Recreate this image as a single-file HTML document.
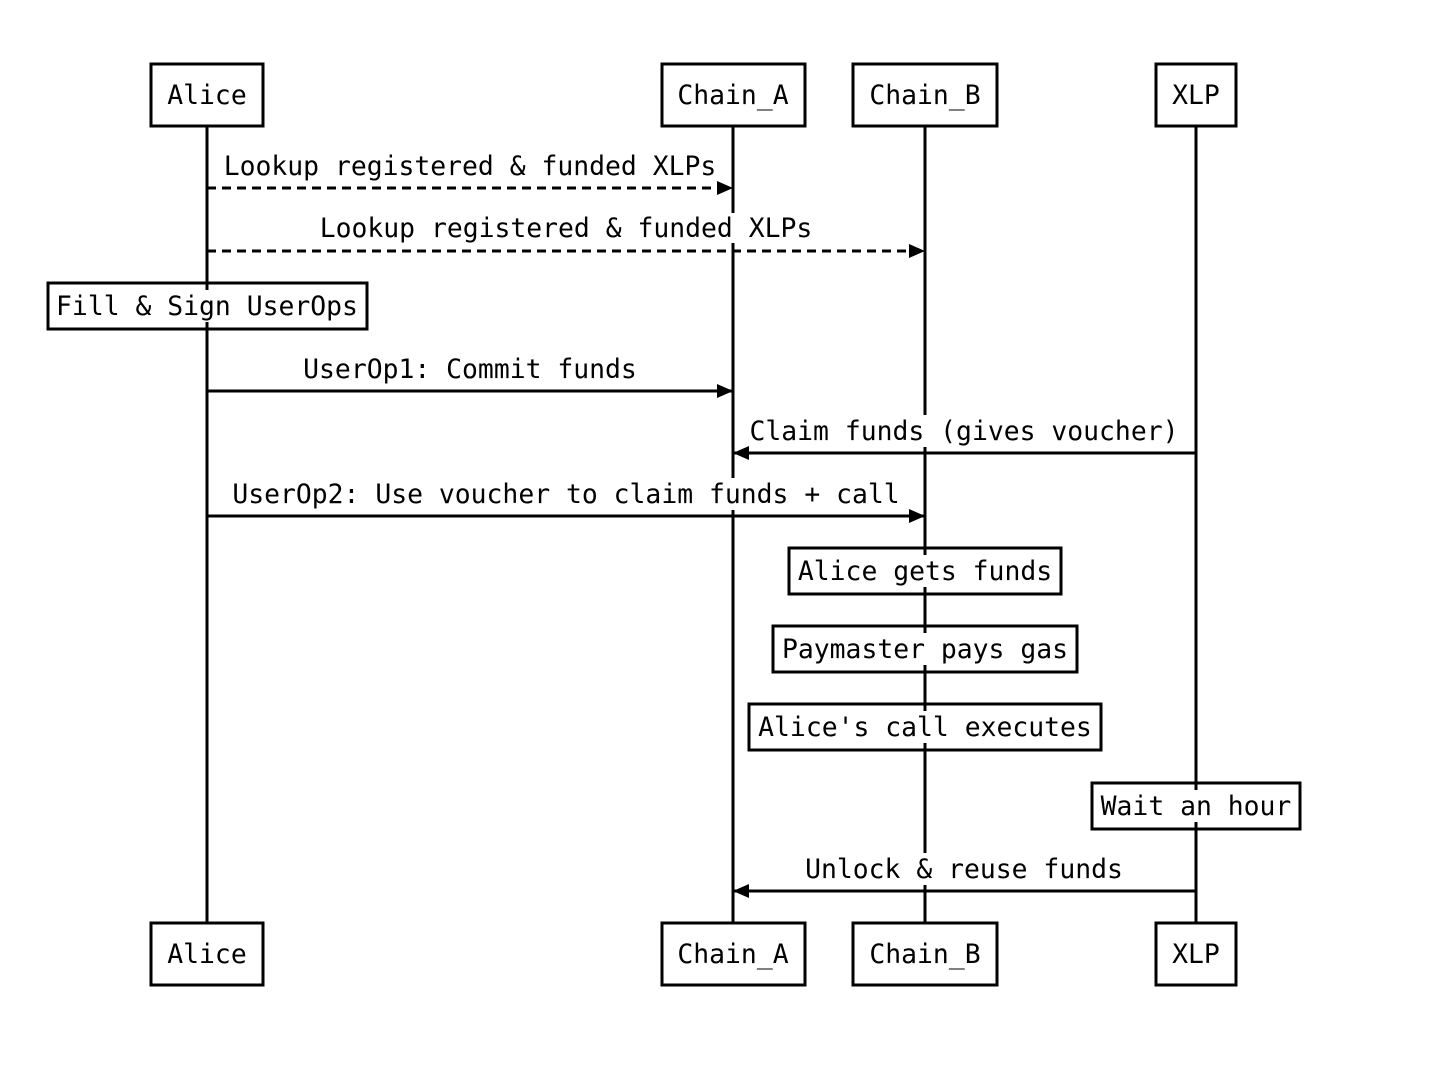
<!DOCTYPE html>
<html><head><meta charset="utf-8"><style>
html,body{margin:0;padding:0;background:#fff}
svg text{font-family:"DejaVu Sans Mono","Liberation Mono",monospace;font-size:26.4px;fill:#000}
</style></head><body>
<svg width="1436" height="1064" viewBox="0 0 1436 1064" xmlns="http://www.w3.org/2000/svg">
<defs>
<marker id="a" markerWidth="16" markerHeight="14" refX="16" refY="7" orient="auto" markerUnits="userSpaceOnUse"><path d="M0,0 L16,7 L0,14 z" fill="#000"/></marker>
</defs>
<g stroke="#000" stroke-width="3">
<line x1="207" y1="126" x2="207" y2="923"/>
<line x1="733" y1="126" x2="733" y2="923"/>
<line x1="925" y1="126" x2="925" y2="923"/>
<line x1="1196" y1="126" x2="1196" y2="923"/>
</g>
<g fill="#fff">
<rect x="220" y="150" width="500" height="32"/>
<rect x="316" y="213" width="500" height="30"/>
<rect x="300" y="353" width="340" height="32"/>
<rect x="746" y="415" width="436" height="32"/>
<rect x="228" y="478" width="676" height="32"/>
<rect x="802" y="853" width="324" height="32"/>
<rect x="54" y="290" width="307" height="32"/>
<rect x="795" y="555" width="260" height="32"/>
<rect x="779" y="633" width="292" height="32"/>
<rect x="755" y="711" width="340" height="32"/>
<rect x="1098" y="790" width="196" height="32"/>
</g>
<g stroke="#000" stroke-width="3" fill="none">
<line x1="207" y1="188" x2="733" y2="188" stroke-dasharray="9,6" marker-end="url(#a)"/>
<line x1="207" y1="251" x2="925" y2="251" stroke-dasharray="9,6" marker-end="url(#a)"/>
<line x1="207" y1="391" x2="733" y2="391" marker-end="url(#a)"/>
<line x1="1196" y1="453" x2="733" y2="453" marker-end="url(#a)"/>
<line x1="207" y1="516" x2="925" y2="516" marker-end="url(#a)"/>
<line x1="1196" y1="891" x2="733" y2="891" marker-end="url(#a)"/>
</g>
<g text-anchor="middle">
<text x="470" y="175">Lookup registered &amp; funded XLPs</text>
<text x="566" y="237">Lookup registered &amp; funded XLPs</text>
<text x="470" y="378">UserOp1: Commit funds</text>
<text x="964" y="440">Claim funds (gives voucher)</text>
<text x="566" y="503">UserOp2: Use voucher to claim funds + call</text>
<text x="964" y="878">Unlock &amp; reuse funds</text>
</g>
<g stroke="#000" stroke-width="3" fill="#fff">
<rect x="151" y="64" width="112" height="62"/>
<rect x="662" y="64" width="143" height="62"/>
<rect x="853" y="64" width="144" height="62"/>
<rect x="1156" y="64" width="80" height="62"/>
<rect x="151" y="923" width="112" height="62"/>
<rect x="662" y="923" width="143" height="62"/>
<rect x="853" y="923" width="144" height="62"/>
<rect x="1156" y="923" width="80" height="62"/>
</g>
<g stroke="#000" stroke-width="3" fill="none">
<rect x="48" y="283" width="319" height="46"/>
<rect x="789" y="548" width="272" height="46"/>
<rect x="773" y="626" width="304" height="46"/>
<rect x="749" y="704" width="352" height="46"/>
<rect x="1092" y="783" width="208" height="46"/>
</g>
<g text-anchor="middle">
<text x="207" y="104">Alice</text>
<text x="733" y="104">Chain_A</text>
<text x="925" y="104">Chain_B</text>
<text x="1196" y="104">XLP</text>
<text x="207" y="963">Alice</text>
<text x="733" y="963">Chain_A</text>
<text x="925" y="963">Chain_B</text>
<text x="1196" y="963">XLP</text>
<text x="207" y="315">Fill &amp; Sign UserOps</text>
<text x="925" y="580">Alice gets funds</text>
<text x="925" y="658">Paymaster pays gas</text>
<text x="925" y="736">Alice's call executes</text>
<text x="1196" y="815">Wait an hour</text>
</g>
</svg>
</body></html>
